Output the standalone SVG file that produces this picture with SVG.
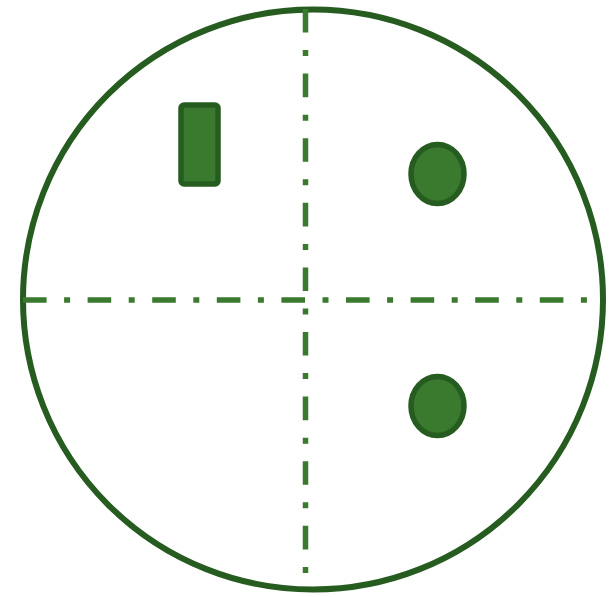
<svg xmlns="http://www.w3.org/2000/svg" width="614" height="597" viewBox="0 0 614 597">
<style>
.outline{fill:none;stroke:#265c20;stroke-width:6}
.axis{stroke:#3a7a2e;stroke-width:5.5;fill:none;stroke-dasharray:23.6 17.5 6 17.5}
.part{fill:#3a7a2e;stroke:#265c20;stroke-width:5.5}
</style>
<rect width="614" height="597" fill="#ffffff"/>
<g id="outline"><circle class="outline" cx="313" cy="299.5" r="290"/></g>
<g id="connectors">
<line class="axis" x1="305.5" y1="9" x2="305.5" y2="574"/>
<line class="axis" x1="23" y1="300" x2="589" y2="300"/>
</g>
<g id="rect-part"><rect class="part" x="181" y="105" width="37" height="79" rx="3"/></g>
<g id="hole-top"><ellipse class="part" cx="437.5" cy="174" rx="26.5" ry="29.5"/></g>
<g id="hole-bottom"><ellipse class="part" cx="437.5" cy="406" rx="26.5" ry="29.5"/></g>
</svg>
